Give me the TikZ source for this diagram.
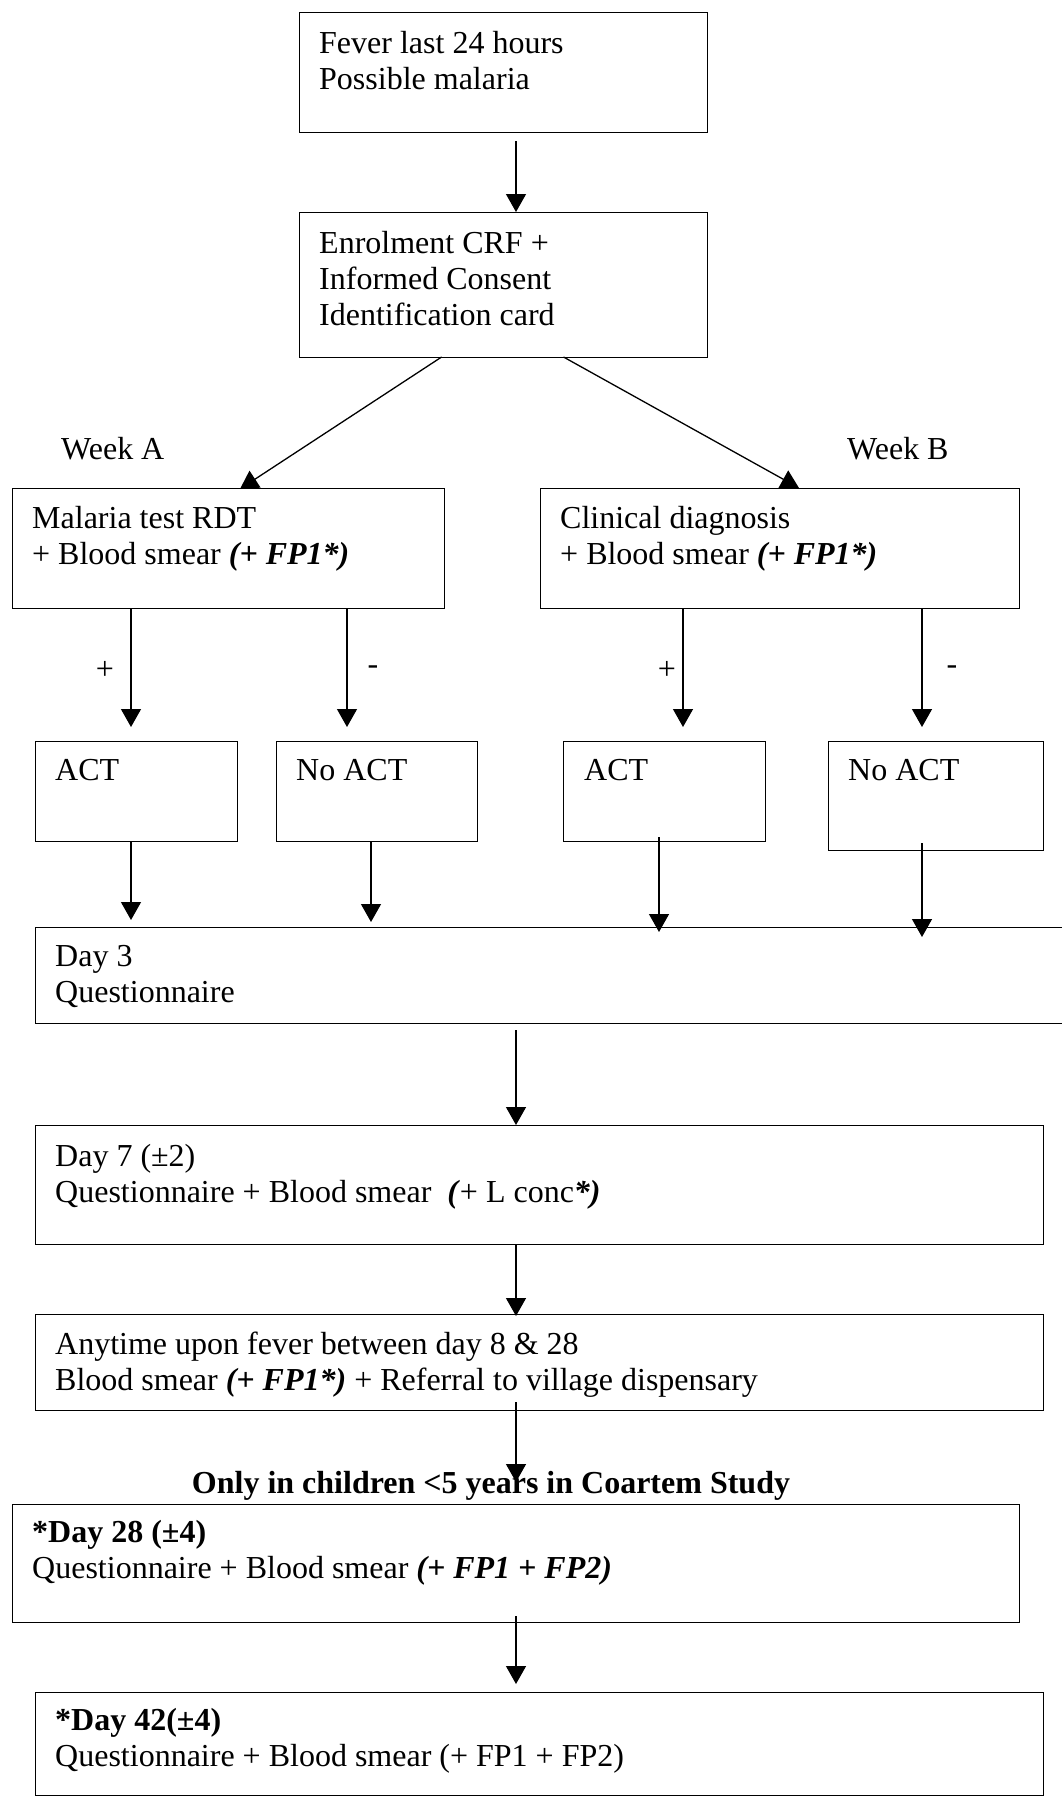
\documentclass[tikz,border=0pt]{standalone}
\usepackage{fontspec}
\setmainfont{Liberation Serif}
\usetikzlibrary{arrows.meta,calc}
\newcommand\mylines[1]{\begin{tabular}[t]{@{}l@{}}#1\end{tabular}}
\begin{document}
\begin{tikzpicture}[x=1pt,y=-1pt,
  box/.style={draw, line width=1.4pt, rectangle, inner sep=0pt, anchor=north west},
  txt/.style={anchor=base west, inner sep=0pt, font=\fontsize{32}{36}\selectfont},
  lbl/.style={inner sep=0pt, font=\fontsize{32}{36}\selectfont},
  arr/.style={line width=1.3pt, -{Triangle[length=18pt,width=20pt]}}]
\useasboundingbox[fill=white] (0,0) rectangle (1062,1812);
% boxes
\node[box, minimum width=408pt, minimum height=120pt] (b1) at (299,12) {};
\node[box, minimum width=408pt, minimum height=145pt] (b2) at (299,212) {};
\node[box, minimum width=432pt, minimum height=120pt] (b3) at (12,488) {};
\node[box, minimum width=479pt, minimum height=120pt] (b4) at (540,488) {};
\node[box, minimum width=202pt, minimum height=100pt] (b5) at (35,741) {};
\node[box, minimum width=201pt, minimum height=100pt] (b6) at (276,741) {};
\node[box, minimum width=202pt, minimum height=100pt] (b7) at (563,741) {};
\node[box, minimum width=215pt, minimum height=109pt] (b8) at (828,741) {};
\node[box, minimum width=1045pt, minimum height=96pt] (b9) at (35,927) {};
\node[box, minimum width=1008pt, minimum height=119pt] (b10) at (35,1125) {};
\node[box, minimum width=1008pt, minimum height=96pt] (b11) at (35,1314) {};
\node[box, minimum width=1007pt, minimum height=118pt] (b12) at (12,1504) {};
\node[box, minimum width=1008pt, minimum height=103pt] (b13) at (35,1692) {};
% texts
\node[txt] (t1) at (319,53) {\mylines{Fever last 24 hours\\Possible malaria}};
\node[txt] (t2) at (319,253) {\mylines{Enrolment CRF +\\Informed Consent\\Identification card}};
\node[txt] (t3) at (32,528) {\mylines{Malaria test RDT\\+ Blood smear \textbf{\textit{(+ FP1*)}}}};
\node[txt] (t4) at (560,528) {\mylines{Clinical diagnosis\\+ Blood smear \textbf{\textit{(+ FP1*)}}}};
\node[txt] (t5) at (55,780) {ACT};
\node[txt] (t6) at (296,780) {No ACT};
\node[txt] (t7) at (584,780) {ACT};
\node[txt] (t8) at (848,780) {No ACT};
\node[txt] (t9) at (55,966) {\mylines{Day 3\\Questionnaire}};
\node[txt] (t10) at (55,1166) {\mylines{Day 7 (±2)\\Questionnaire + Blood smear \ \textbf{\textit{(}}+ L conc\textbf{\textit{*)}}}};
\node[txt] (t11) at (55,1354) {\mylines{Anytime upon fever between day 8 \& 28\\Blood smear \textbf{\textit{(+ FP1*)}} + Referral to village dispensary}};
\node[txt] (t12) at (32,1542) {\mylines{\textbf{*Day 28 (±4)}\\Questionnaire + Blood smear \textbf{\textit{(+ FP1 + FP2)}}}};
\node[txt] (t13) at (55,1730) {\mylines{\textbf{*Day 42(±4)}\\Questionnaire + Blood smear (+ FP1 + FP2)}};
% labels
\node[txt] (wa) at (61,459) {Week A};
\node[txt] (wb) at (847,459) {Week B};
\node[lbl] (p1) at (105,670) {+};
\node[lbl] (m1) at (373,670) {-};
\node[lbl] (p2) at (667,670) {+};
\node[lbl] (m2) at (952,670) {-};
\node[lbl, anchor=base] (only) at (491,1493) {\textbf{Only in children <5 years in Coartem Study}};
% column coordinates
\coordinate (c0) at (516,0);
\coordinate (c1) at (131,0);
\coordinate (c2) at (347,0);
\coordinate (c3) at (683,0);
\coordinate (c4) at (922,0);
\coordinate (c5) at (371,0);
\coordinate (c6) at (659,0);
\coordinate (dl) at (441.6,357);
\coordinate (dr) at (563.5,357);
\coordinate (el) at (240,489);
\coordinate (er) at (799,488);
% connectors
\draw[arr] ($(b1.south -| c0)+(0,8)$) -- (b2.north -| c0);
\draw[arr] (dl) -- (el);
\draw[arr] (dr) -- (er);
\draw[arr] (b3.south -| c1) -- ($(b5.north -| c1)+(0,-14)$);
\draw[arr] (b3.south -| c2) -- ($(b6.north -| c2)+(0,-14)$);
\draw[arr] (b4.south -| c3) -- ($(b7.north -| c3)+(0,-14)$);
\draw[arr] (b4.south -| c4) -- ($(b8.north -| c4)+(0,-14)$);
\draw[arr] (b5.south -| c1) -- ($(b9.north -| c1)+(0,-7)$);
\draw[arr] (b6.south -| c5) -- ($(b9.north -| c5)+(0,-5)$);
\draw[arr] ($(b7.south -| c6)+(0,-5)$) -- ($(b9.north -| c6)+(0,5)$);
\draw[arr] ($(b8.south -| c4)+(0,-8)$) -- ($(b9.north -| c4)+(0,10)$);
\draw[arr] ($(b9.south -| c0)+(0,6)$) -- (b10.north -| c0);
\draw[arr] (b10.south -| c0) -- ($(b11.north -| c0)+(0,2)$);
\draw[arr] ($(b11.south -| c0)+(0,-9)$) -- ($(b12.north -| c0)+(0,-22)$);
\draw[arr] ($(b12.south -| c0)+(0,-7)$) -- ($(b13.north -| c0)+(0,-8)$);
\end{tikzpicture}
\end{document}
